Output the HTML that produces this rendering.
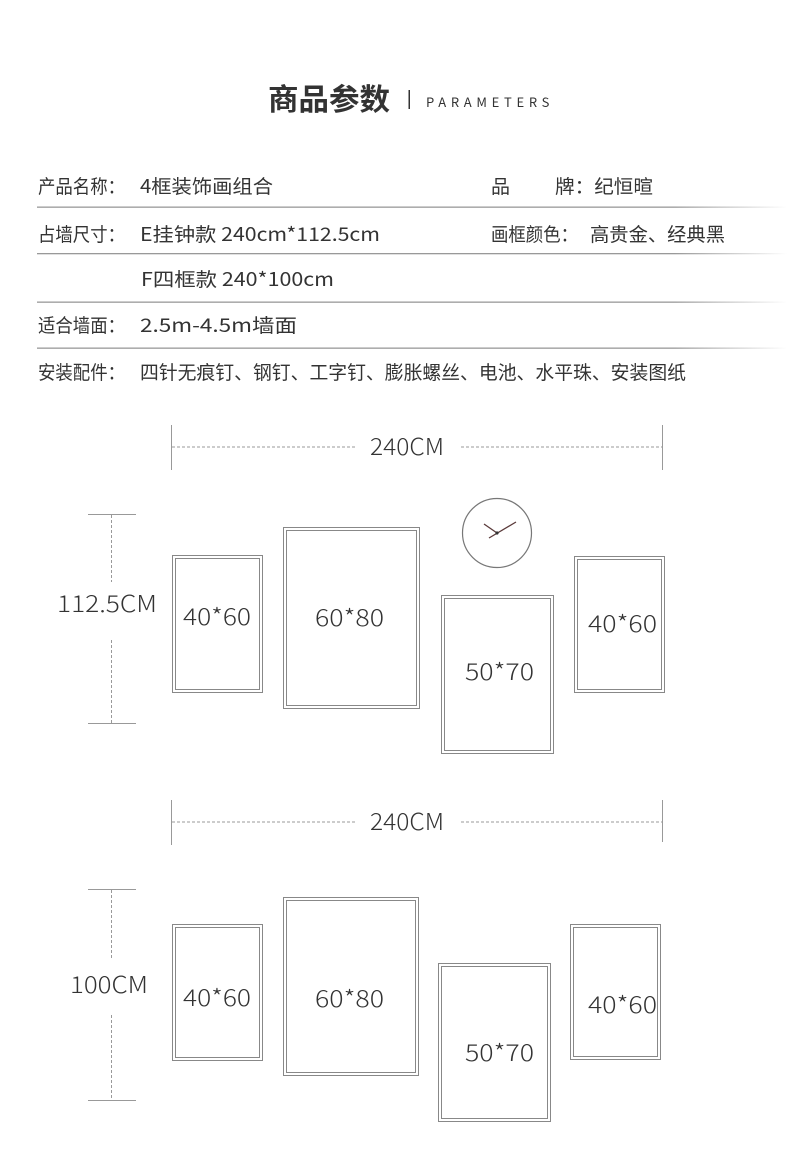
<!DOCTYPE html>
<html><head><meta charset="utf-8"><style>
html,body{margin:0;padding:0;background:#fff;}
svg{display:block;}
text{font-family:"Noto Sans CJK SC","Liberation Sans",sans-serif;fill:#333;}
</style></head><body>
<svg width="790" height="1164" viewBox="0 0 790 1164" xmlns="http://www.w3.org/2000/svg">
<defs>
<linearGradient id="lg" x1="0" x2="1"><stop offset="0.85" stop-color="#999"/><stop offset="1" stop-color="#999" stop-opacity="0"/></linearGradient>
</defs>
<text x="268" y="110" font-size="30" font-weight="bold" fill="#222" textLength="122" lengthAdjust="spacingAndGlyphs">商品参数</text>
<rect x="408.5" y="90" width="1.5" height="19" fill="#333"/>
<text x="426" y="107" font-size="13" letter-spacing="3.6" fill="#333" font-family="Liberation Sans, sans-serif" textLength="127">PARAMETERS</text>

<g font-size="19">
<text x="38" y="193" textLength="87" lengthAdjust="spacingAndGlyphs">产品名称：</text>
<text x="140" y="193" textLength="133" lengthAdjust="spacingAndGlyphs">4框装饰画组合</text>
<text x="491" y="193">品</text>
<text x="555" y="193" textLength="98" lengthAdjust="spacingAndGlyphs">牌：纪恒暄</text>
<text x="38" y="241" textLength="87" lengthAdjust="spacingAndGlyphs">占墙尺寸：</text>
<text x="140" y="241" textLength="240" lengthAdjust="spacingAndGlyphs">E挂钟款 240cm*112.5cm</text>
<text x="491" y="241" textLength="87" lengthAdjust="spacingAndGlyphs">画框颜色：</text>
<text x="590" y="241" textLength="135" lengthAdjust="spacingAndGlyphs">高贵金、经典黑</text>
<text x="141" y="286" textLength="193" lengthAdjust="spacingAndGlyphs">F四框款 240*100cm</text>
<text x="38" y="332" textLength="87" lengthAdjust="spacingAndGlyphs">适合墙面：</text>
<text x="140" y="332" textLength="157" lengthAdjust="spacingAndGlyphs">2.5m-4.5m墙面</text>
<text x="38" y="379" textLength="87" lengthAdjust="spacingAndGlyphs">安装配件：</text>
<text x="140" y="379" textLength="546" lengthAdjust="spacingAndGlyphs">四针无痕钉、钢钉、工字钉、膨胀螺丝、电池、水平珠、安装图纸</text>
</g>
<g fill="url(#lg)">
<rect x="37" y="206.5" width="750" height="1.3"/>
<rect x="37" y="253" width="750" height="1.3"/>
<rect x="37" y="301.5" width="750" height="1.3"/>
<rect x="37" y="347.5" width="750" height="1.3"/>
</g>

<g stroke="#999" stroke-width="1" fill="none">
<line x1="171.5" y1="425" x2="171.5" y2="470"/>
<line x1="662.5" y1="425" x2="662.5" y2="470"/>
<line x1="172" y1="447" x2="356" y2="447" stroke-dasharray="3,2"/>
<line x1="461" y1="447" x2="662" y2="447" stroke-dasharray="3,2"/>
<line x1="88" y1="514.5" x2="136" y2="514.5"/>
<line x1="88" y1="723.5" x2="136" y2="723.5"/>
<line x1="111.5" y1="515" x2="111.5" y2="582" stroke-dasharray="3,2"/>
<line x1="111.5" y1="640" x2="111.5" y2="723" stroke-dasharray="3,2"/>
<line x1="171.5" y1="800" x2="171.5" y2="845"/>
<line x1="662.5" y1="800" x2="662.5" y2="842"/>
<line x1="172" y1="822" x2="356" y2="822" stroke-dasharray="3,2"/>
<line x1="461" y1="822" x2="662" y2="822" stroke-dasharray="3,2"/>
<line x1="88" y1="889.5" x2="136" y2="889.5"/>
<line x1="88" y1="1100.5" x2="136" y2="1100.5"/>
<line x1="111.5" y1="890" x2="111.5" y2="958" stroke-dasharray="3,2"/>
<line x1="111.5" y1="1015" x2="111.5" y2="1100" stroke-dasharray="3,2"/>
</g>

<g fill="none" stroke="#888" stroke-width="1">
<rect x="172.5" y="555.5" width="90" height="137"/><rect x="175.5" y="558.5" width="84" height="131"/>
<rect x="283.5" y="527.5" width="136" height="181"/><rect x="286.5" y="530.5" width="130" height="175"/>
<rect x="441.5" y="595.5" width="112" height="158"/><rect x="444.5" y="598.5" width="106" height="152"/>
<rect x="574.5" y="556.5" width="90" height="136"/><rect x="577.5" y="559.5" width="84" height="130"/>

<rect x="172.5" y="924.5" width="90" height="136"/><rect x="175.5" y="927.5" width="84" height="130"/>
<rect x="283.5" y="897.5" width="135" height="178"/><rect x="286.5" y="900.5" width="129" height="172"/>
<rect x="438.5" y="963.5" width="112" height="158"/><rect x="441.5" y="966.5" width="106" height="152"/>
<rect x="570.5" y="924.5" width="90" height="135"/><rect x="573.5" y="927.5" width="84" height="129"/>
</g>
<circle cx="497" cy="533" r="34.5" fill="none" stroke="#777" stroke-width="1.2"/>
<line x1="484" y1="524" x2="497" y2="533" stroke="#5a3a3a" stroke-width="1.3"/>
<line x1="489" y1="538" x2="516" y2="522" stroke="#5a3a3a" stroke-width="1.3"/>
<circle cx="497" cy="533" r="1.6" fill="#333"/>

<g font-size="23" font-weight="300" fill="#333">
<text x="370" y="455" textLength="74" lengthAdjust="spacingAndGlyphs">240CM</text>
<text x="57" y="612" textLength="100" lengthAdjust="spacingAndGlyphs">112.5CM</text>
<text x="183" y="625" textLength="68" lengthAdjust="spacingAndGlyphs">40*60</text>
<text x="315" y="626" textLength="69" lengthAdjust="spacingAndGlyphs">60*80</text>
<text x="465" y="680" textLength="69" lengthAdjust="spacingAndGlyphs">50*70</text>
<text x="588" y="632" textLength="69" lengthAdjust="spacingAndGlyphs">40*60</text>

<text x="370" y="830" textLength="74" lengthAdjust="spacingAndGlyphs">240CM</text>
<text x="70" y="993" textLength="78" lengthAdjust="spacingAndGlyphs">100CM</text>
<text x="183" y="1006" textLength="68" lengthAdjust="spacingAndGlyphs">40*60</text>
<text x="315" y="1007" textLength="69" lengthAdjust="spacingAndGlyphs">60*80</text>
<text x="465" y="1061" textLength="69" lengthAdjust="spacingAndGlyphs">50*70</text>
<text x="588" y="1013" textLength="69" lengthAdjust="spacingAndGlyphs">40*60</text>
</g>
</svg>
</body></html>
